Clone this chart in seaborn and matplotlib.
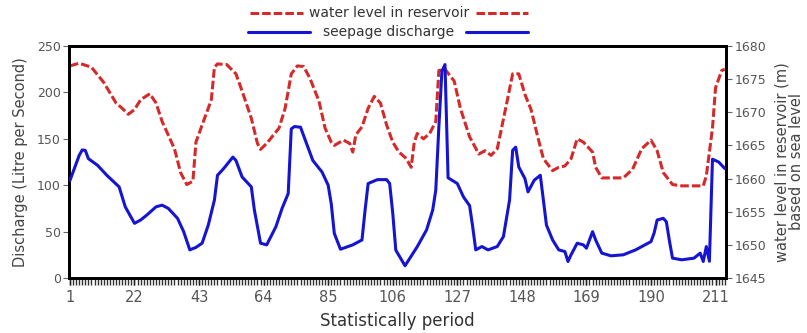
import numpy as np
import pandas as pd
import matplotlib
matplotlib.use("Agg")
import matplotlib.pyplot as plt
from matplotlib.lines import Line2D
from matplotlib.ticker import FixedLocator, MultipleLocator
import seaborn as sns

# ---- data ----
level_period = [1, 4, 8, 12, 16, 18, 20, 22, 24, 27, 29, 31, 35, 37, 39, 41, 42, 44, 46, 47,
                48, 49, 52, 55, 57, 60, 62, 63, 65, 69, 71, 73, 75, 77, 79, 82, 84, 86, 87, 90,
                92, 93, 94, 96, 98, 100, 102, 104, 106, 108, 110, 111, 112, 113, 114, 116, 118, 120, 121, 123,
                126, 128, 131, 134, 136, 138, 140, 143, 145, 147, 149, 151, 153, 155, 158, 160, 162, 164, 166, 168,
                171, 172, 174, 177, 181, 184, 187, 190, 192, 194, 197, 200, 207, 208, 210, 211, 213, 214]
level_m = [1677.0, 1677.4, 1676.8, 1674.5, 1671.4, 1670.6, 1669.7, 1670.4, 1671.9, 1672.8,
           1671.4, 1668.6, 1664.5, 1660.9, 1659.1, 1659.6, 1665.5, 1668.1, 1670.6, 1671.9,
           1676.8, 1677.3, 1677.2, 1675.8, 1673.2, 1669.1, 1665.3, 1664.4, 1665.3, 1667.6,
           1670.6, 1675.8, 1677.0, 1676.9, 1675.2, 1671.7, 1667.6, 1665.5, 1665.0, 1665.8,
           1665.3, 1664.0, 1666.6, 1667.8, 1670.6, 1672.4, 1671.4, 1668.1, 1665.5, 1664.0,
           1663.2, 1662.5, 1661.7, 1665.5, 1666.8, 1666.0, 1666.8, 1668.6, 1676.3, 1676.5,
           1674.7, 1670.6, 1666.3, 1663.7, 1664.2, 1663.5, 1664.5, 1671.2, 1675.8, 1675.8,
           1672.7, 1670.4, 1666.6, 1663.0, 1661.2, 1661.7, 1661.9, 1663.0, 1666.0, 1665.5,
           1664.0, 1661.7, 1660.1, 1660.1, 1660.1, 1661.4, 1664.5, 1665.8, 1664.2, 1660.9,
           1659.1, 1658.9, 1658.9, 1660.4, 1667.6, 1673.7, 1676.3, 1676.5]

disch_period = [1, 4, 5, 6, 7, 10, 13, 17, 19, 22, 24, 26, 29, 31, 33, 36, 38, 40, 42, 44,
                46, 48, 49, 51, 54, 55, 57, 60, 61, 63, 65, 68, 70, 72, 73, 74, 76, 78, 80, 83,
                85, 86, 87, 89, 93, 96, 97, 98, 101, 104, 105, 106, 107, 110, 114, 117, 119, 120, 121, 122,
                123, 124, 127, 129, 131, 132, 133, 135, 137, 140, 142, 144, 145, 146, 147, 149, 150, 152, 154, 155,
                156, 158, 160, 162, 163, 164, 166, 168, 169, 171, 172, 174, 177, 181, 185, 190, 191, 192, 194, 195,
                196, 197, 200, 204, 206, 207, 208, 209, 210, 212, 214]
disch_lps = [105, 132, 138, 137.5, 128.6, 121.4, 110.7, 98.2, 76.7, 58.9, 62.5, 67.8, 76.7, 78.5, 75,
             64.3, 49.9, 30.3, 33, 37.5, 57, 84, 110.7, 117.9, 130.3, 126.7, 108.9, 98.2, 73.2, 37.5,
             35.7, 55.3, 75, 91, 160.7, 163.2, 162.5, 144.6, 126.7, 114.2, 100, 80, 48, 31, 35.7,
             41, 73, 101.8, 106, 106, 101.8, 70, 30, 13.2, 33.9, 51.8, 73.2, 94.6, 162.5, 223,
             230, 108, 101.8, 87.4, 78, 55.3, 30.3, 33.9, 30.3, 33.9, 44.6, 84, 137.5, 141, 119.6,
             107.1, 92.8, 105.3, 110.7, 84, 57, 41, 30.3, 28.5, 17.8, 25, 37.5, 35.7, 32.1, 49.9,
             41, 26.8, 23.9, 25, 30.3, 39.2, 48.2, 62.5, 64.3, 60.6, 40, 21.4, 19.6, 21.4, 26.8,
             17.8, 33.9, 18, 128, 125, 118]

left_ticks = [0, 50, 100, 150, 200, 250]
right_ticks = [1645, 1650, 1655, 1660, 1665, 1670, 1675, 1680]
x_ticks = [1, 22, 43, 64, 85, 106, 127, 148, 169, 190, 211]

legend_level = "water level in reservoir"
legend_disch = "seepage discharge"
x_label = "Statistically period"
y_label_left = "Discharge (Litre per Second)"
y_label_right = "water level in reservoir (m)\nbased on sea level"

RED = "#d42a2a"
BLUE = "#1414d2"
TXT = "#555555"

sns.set_theme(style="white")
plt.rcParams["font.family"] = ["DejaVu Sans"]

W, H = 807, 333
fig = plt.figure(figsize=(W / 100, H / 100), dpi=100)
ax = fig.add_axes([69 / W, 1 - 278 / H, (726 - 69) / W, (278 - 46) / H])

df_d = pd.DataFrame({"period": disch_period, "discharge": disch_lps})
df_l = pd.DataFrame({"period": level_period, "level": level_m})

sns.lineplot(data=df_d, x="period", y="discharge", ax=ax, color=BLUE, lw=2.2, legend=False, zorder=3)
ax2 = ax.twinx()
sns.lineplot(data=df_l, x="period", y="level", ax=ax2, color=RED, lw=2.2, legend=False)
for ln in ax2.get_lines():
    ln.set_dashes((2.8, 1.0))

# blue above red
ax.set_zorder(ax2.get_zorder() + 1)
ax.patch.set_visible(False)

ax.set_xlim(0.7, 214.4)
ax.set_ylim(0, 250)
ax2.set_ylim(1645, 1680)

ax.xaxis.set_major_locator(FixedLocator(x_ticks))
ax.set_xticklabels([str(v) for v in x_ticks])
ax.set_yticks(left_ticks)
ax2.set_yticks(right_ticks)

ax.xaxis.set_tick_params(which="major", direction="out", length=5, width=1.0, color="#222222",
                         labelsize=10.5, labelcolor=TXT, pad=4, bottom=True, top=False)
ax.tick_params(axis="y", which="major", direction="out", length=4, width=0.8, color="#666666",
               labelsize=9, labelcolor=TXT, pad=2, left=True)
ax2.tick_params(axis="y", which="major", direction="out", length=4, width=0.8, color="#666666",
                labelsize=9, labelcolor=TXT, pad=2, right=True)

# dense per-period ticks under the x axis (drawn as a secondary tick axis)
sec = ax.secondary_xaxis("bottom")
sec.set_xticks(np.arange(1, 215))
sec.set_xticklabels([])
sec.tick_params(axis="x", direction="out", length=5, width=1.0, color="#333333", bottom=True)
sec.spines["bottom"].set_visible(False)

ax.set_xlabel(x_label, fontsize=12, color="#333333", labelpad=5)
ax.set_ylabel(y_label_left, fontsize=10.5, color="#444444", labelpad=6)
ax2.set_ylabel(y_label_right, fontsize=10.5, color="#444444", labelpad=6, rotation=90, linespacing=1.0)
ax.grid(False)
ax2.grid(False)

for a in (ax, ax2):
    for s in a.spines.values():
        s.set_color("black")
        s.set_linewidth(2.0)
        s.set_visible(True)

# legend rows with samples on both sides of the text
def fx(px):
    return px / W

def fy(py):
    return 1 - py / H

rows = [
    (legend_level, 13, RED, (2.8, 1.0), (250, 303), (476, 528)),
    (legend_disch, 32, BLUE, None, (248, 310), (466, 528)),
]
for text, yy, col, dash, l_seg, r_seg in rows:
    fig.text(fx(389), fy(yy), text, ha="center", va="center", fontsize=10, color="#333333")
    for seg in (l_seg, r_seg):
        ln = Line2D([fx(seg[0]), fx(seg[1])], [fy(yy), fy(yy)], transform=fig.transFigure,
                    color=col, lw=2.2)
        if dash:
            ln.set_dashes(dash)
        fig.add_artist(ln)

fig.savefig("out.png", dpi=100, facecolor="white")
